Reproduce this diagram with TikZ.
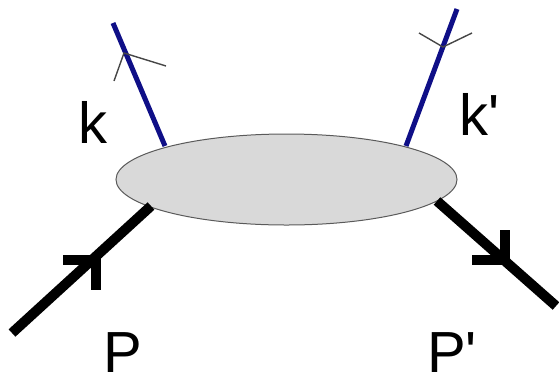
\documentclass[tikz,border=0pt]{standalone}
\usepackage{fontspec}
\newfontfamily\labfont{Liberation Sans}
\usetikzlibrary{shapes.geometric}
\definecolor{navy}{RGB}{15,15,135}
\definecolor{blobfill}{RGB}{217,217,217}
\definecolor{blobline}{RGB}{90,90,90}
\definecolor{tipgray}{RGB}{70,70,70}
\tikzset{
  photon/.style={line width=5pt, draw=navy},
  proton/.style={line width=10pt, draw=black},
  thintip/.style={line width=1.4pt, draw=tipgray},
  thicktip/.style={line width=10pt, draw=black, line join=miter},
  lab/.style={anchor=base west, inner sep=0pt, text depth=0pt, font=\labfont\fontsize{58}{58}\selectfont},
}
\begin{document}
\begin{tikzpicture}[x=1pt,y=-1pt]
\useasboundingbox (0,0) rectangle (559,376);
\node[ellipse, draw=blobline, fill=blobfill, line width=1pt, minimum width=341pt, minimum height=91pt, inner sep=0pt] (blob) at (286.5,179.5) {};
% end points
\coordinate (kout) at (113,23);
\coordinate (kin) at (165,146);
\coordinate (kpin) at (406,146);
\coordinate (kpout) at (457,9);
\coordinate (pout) at (12,333);
\coordinate (pin) at (151,206);
\coordinate (ppin) at (437,201);
\coordinate (ppout) at (556,306);
% lines
\draw[photon] (kin) -- (kout);
\draw[photon] (kpin) -- (kpout);
\draw[proton] (pout) -- (pin);
\draw[proton] (ppin) -- (ppout);
% arrow marks
\coordinate (ka) at (124,53);
\coordinate (kpa) at (443,47);
\coordinate (pa) at (96,260);
\coordinate (ppa) at (505,260);
\draw[thintip] (114,81) -- (ka) -- (166,66);
\draw[thintip] (419,33) -- (kpa) -- (472,33);
\draw[thicktip] (63,260) -- (pa) -- (96,290);
\draw[thicktip] (472,260) -- (ppa) -- (505,230);
% labels
\node[lab] (lk) at (78,143) {k};
\node[lab] (lkp) at (459,135) {k'};
\node[lab] (lp) at (103,372) {P};
\node[lab] (lpp) at (427,372) {P'};
\end{tikzpicture}
\end{document}
